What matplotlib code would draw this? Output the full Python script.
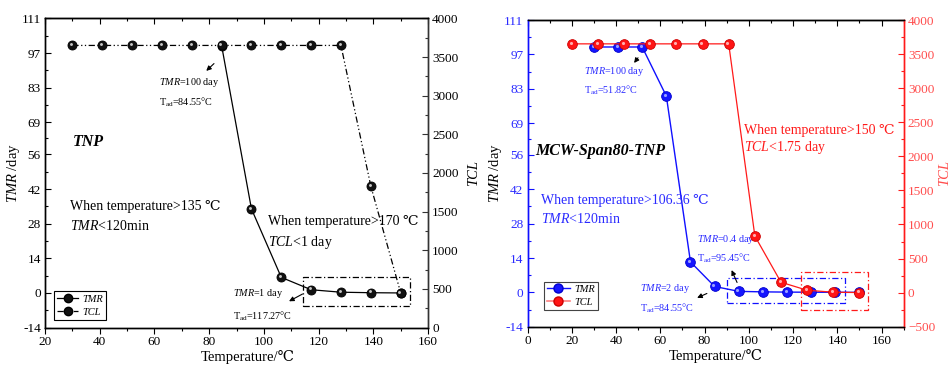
import matplotlib
matplotlib.use("Agg")
import matplotlib.pyplot as plt
from matplotlib.lines import Line2D
from matplotlib.patches import Rectangle
from matplotlib.ticker import MultipleLocator, FixedLocator
from matplotlib.transforms import offset_copy

plt.rcParams['font.family'] = ['Liberation Serif', 'DejaVu Serif', 'DejaVu Sans']
plt.rcParams['mathtext.fontset'] = 'custom'
plt.rcParams['mathtext.rm'] = 'Liberation Serif'
plt.rcParams['mathtext.it'] = 'Liberation Serif:italic'
plt.rcParams['mathtext.bf'] = 'Liberation Serif:bold'

# ---------------- data ----------------
# Left panel (TNP)
tnp_tmr_temp = [84.55, 95.45, 106.36, 117.27, 128.18, 139.09, 150]
tnp_tmr = [100, 34, 6.3, 1.3, 0.3, 0.1, 0.0]
tnp_tcl_temp = [30, 40.91, 51.82, 62.73, 73.64, 84.55, 95.45, 106.36, 117.27, 128.18, 139.09, 150]
tnp_tcl = [3650, 3650, 3650, 3650, 3650, 3650, 3650, 3650, 3650, 3650, 1830, 450]

# Right panel (MCW-Span80-TNP)
mcw_tmr_temp = [30, 40.91, 51.82, 62.73, 73.64, 84.55, 95.45, 106.36, 117.27, 128.18, 139.09, 150]
mcw_tmr = [100, 100, 100, 80, 12.4, 2.4, 0.4, 0.2, 0.1, 0.05, 0.02, 0.01]
mcw_tcl_temp = [20, 31.82, 43.64, 55.45, 67.27, 79.09, 90.91, 102.73, 114.55, 126.36, 138.18, 150]
mcw_tcl = [3650, 3650, 3650, 3650, 3650, 3650, 3650, 830, 152, 35, 6, 1]

tmr_ticks = [-14, 0, 14, 28, 42, 56, 69, 83, 97, 111]
tmr_minor = [-7, 7, 21, 35, 49, 62.5, 76, 90, 104]

BLUE = '#1010ff'
BLUE_T = '#2a2aff'
RED = '#ff1a1a'
RED_T = '#ff4d4d'

fig = plt.figure(figsize=(9.52, 3.67), dpi=100)


def balls(ax, x, y, face, edge, hl, ms, ls, lc, lw=0.9, z=3):
    ax.plot(x, y, linestyle=ls, color=lc, lw=lw, marker='o', ms=ms,
            mfc=face, mec=edge, mew=0.6, zorder=z)
    tr = offset_copy(ax.transData, fig=fig, x=-0.9, y=0.9, units='points')
    ax.plot(x, y, linestyle='none', marker='o', ms=ms * 0.32, mfc=hl, mec='none',
            alpha=0.9, transform=tr, zorder=z + 0.1)


def style_axes(ax, axr, xmajor, lcol, rcol, lspine, rspine, rticks, rminor, rlim):
    ax.set_ylim(-14, 111)
    ax.yaxis.set_major_locator(FixedLocator(tmr_ticks))
    ax.yaxis.set_minor_locator(FixedLocator(tmr_minor))
    ax.set_yticklabels([str(t) for t in tmr_ticks])
    ax.xaxis.set_major_locator(FixedLocator(xmajor))
    ax.xaxis.set_minor_locator(MultipleLocator(10))
    ax.tick_params(axis='x', which='both', direction='out', labelsize=9.5, pad=2)
    ax.tick_params(axis='x', which='major', length=4, width=0.8)
    ax.tick_params(axis='x', which='minor', length=2.5, width=0.8)
    ax.tick_params(axis='y', which='both', direction='in', labelsize=9.5,
                   colors=lspine, labelcolor=lcol, pad=3)
    ax.tick_params(axis='y', which='major', length=4, width=0.8)
    ax.tick_params(axis='y', which='minor', length=2.5, width=0.8)
    axr.set_ylim(*rlim)
    axr.yaxis.set_major_locator(FixedLocator(rticks))
    axr.yaxis.set_minor_locator(FixedLocator(rminor))
    axr.tick_params(axis='y', which='both', direction='in', labelsize=9.5,
                    colors=rspine, labelcolor=rcol, pad=3)
    axr.tick_params(axis='y', which='major', length=4, width=0.8)
    axr.tick_params(axis='y', which='minor', length=2.5, width=0.8)
    top = ax.secondary_xaxis('top')
    top.xaxis.set_major_locator(FixedLocator(xmajor))
    top.xaxis.set_minor_locator(MultipleLocator(10))
    top.tick_params(axis='x', which='both', direction='in', labeltop=False, width=0.8)
    top.tick_params(axis='x', which='major', length=4)
    top.tick_params(axis='x', which='minor', length=2.5)
    for a in (ax, axr):
        for s in a.spines.values():
            s.set_linewidth(1.0)
    ax.spines['left'].set_color(lspine)
    axr.spines['left'].set_color(lspine)
    ax.spines['right'].set_color(rspine)
    axr.spines['right'].set_color(rspine)


# ================= Left panel =================
ax1 = fig.add_axes([0.0473, 0.1074, 0.4023, 0.8425])
ax1b = ax1.twinx()
style_axes(ax1, ax1b, [20, 40, 60, 80, 100, 120, 140, 160], 'k', 'k', 'k', '#333333',
           [0, 500, 1000, 1500, 2000, 2500, 3000, 3500, 4000],
           [250, 750, 1250, 1750, 2250, 2750, 3250, 3750], (0, 4000))
ax1.set_xlim(20, 160)

tcl_ls = (0, (5, 2, 1, 2, 1, 2))
balls(ax1, tnp_tmr_temp, tnp_tmr, '#111111', '#000000', '#dddddd', 6.5, '-', 'k')
balls(ax1b, tnp_tcl_temp, tnp_tcl, '#111111', '#000000', '#dddddd', 6.5, tcl_ls, 'k')

ax1.set_xlabel('Temperature/℃', fontsize=10.5)
ax1.xaxis.set_label_coords(0.53, -0.072)
ax1.set_ylabel(r'$\mathit{TMR}$ /day', fontsize=10.5, labelpad=0)
ax1b.set_ylabel('TCL', fontsize=10.5, style='italic', labelpad=6)

ax1.text(61.7, 84.9, r'$\mathit{TMR}$=100 day', fontsize=7.3, va='center')
ax1.text(61.7, 76.9, r'T$_{\rm ad}$=84.55°C', fontsize=7.3, va='center')
ax1.annotate('', xy=(78.2, 89), xytext=(82.5, 93.5),
             arrowprops=dict(arrowstyle='-|>', color='k', lw=0.8, mutation_scale=7))
ax1.text(30.2, 61.2, 'TNP', fontsize=11.5, fontweight='bold', style='italic', va='center')
ax1.text(29.1, 34.9, 'When temperature>135 ℃', fontsize=10, va='center')
ax1.text(29.1, 27.1, r'$\mathit{TMR}$<120min', fontsize=10, va='center')
ax1.text(101.5, 28.7, 'When temperature>170 ℃', fontsize=10, va='center', zorder=5)
ax1.text(101.5, 20.3, r'$\mathit{TCL}$<1 day', fontsize=10, va='center', zorder=5)
ax1.text(88.7, -0.1, r'$\mathit{TMR}$=1 day', fontsize=7.3, va='center')
ax1.text(88.7, -9.6, r'T$_{\rm ad}$=117.27°C', fontsize=7.3, va='center')
ax1.annotate('', xy=(108.3, -3.9), xytext=(115, 0.1),
             arrowprops=dict(arrowstyle='-|>', color='k', lw=0.8, mutation_scale=7))
ax1.add_patch(Rectangle((114.4, -5.3), 39.0, 11.9, fill=False, ec='k', lw=0.9,
                        ls=(0, (5, 2, 1, 2))))

h1 = [Line2D([], [], color='k', ls='-', lw=0.9, marker='o', ms=6, mfc='#111111', mec='k'),
      Line2D([], [], color='k', ls=tcl_ls, lw=0.9, marker='o', ms=6, mfc='#111111', mec='k')]
leg1 = ax1b.legend(h1, ['TMR', 'TCL'], loc='lower left', bbox_to_anchor=(0.024, 0.025),
                   borderaxespad=0, fancybox=False, edgecolor='k', framealpha=1,
                   prop={'size': 7.5, 'style': 'italic'}, handlelength=2.0,
                   borderpad=0.3, labelspacing=0.35, handletextpad=0.4)
leg1.get_frame().set_linewidth(0.8)

# ================= Right panel =================
ax2 = fig.add_axes([0.5541, 0.1098, 0.3952, 0.8357])
ax2b = ax2.twinx()
style_axes(ax2, ax2b, [0, 20, 40, 60, 80, 100, 120, 140, 160], BLUE_T, RED_T, BLUE, RED,
           [-500, 0, 500, 1000, 1500, 2000, 2500, 3000, 3500, 4000],
           [-250, 250, 750, 1250, 1750, 2250, 2750, 3250, 3750], (-500, 4000))
ax2.set_xlim(0, 170)

balls(ax2, mcw_tmr_temp, mcw_tmr, '#1515ff', '#0000cc', '#aab0ff', 7, '-', BLUE, lw=1.0)
balls(ax2b, mcw_tcl_temp, mcw_tcl, '#ff1515', '#cc0000', '#ffc0c0', 7, '-', RED, lw=0.9)

ax2.set_xlabel('Temperature/℃', fontsize=10.5)
ax2.xaxis.set_label_coords(0.5, -0.072)
ax2.set_ylabel(r'$\mathit{TMR}$ /day', fontsize=10.5, labelpad=0)
ax2b.set_ylabel('TCL', fontsize=10.5, style='italic', color=RED_T, labelpad=2)

ax2.text(25.7, 89.9, r'$\mathit{TMR}$=100 day', fontsize=7.3, va='center', color=BLUE_T)
ax2.text(25.7, 82.2, r'T$_{\rm ad}$=51.82°C', fontsize=7.3, va='center', color=BLUE_T)
ax2.annotate('', xy=(47.4, 92.6), xytext=(50.7, 96.5),
             arrowprops=dict(arrowstyle='-|>', color='k', lw=0.8, mutation_scale=7))
ax2.text(3.6, 57.5, 'MCW-Span80-TNP', fontsize=11.5, fontweight='bold', style='italic',
         va='center')
ax2.text(5.9, 37.6, 'When temperature>106.36 ℃', fontsize=10, va='center', color=BLUE_T)
ax2.text(5.9, 30.0, r'$\mathit{TMR}$<120min', fontsize=10, va='center', color=BLUE_T)
ax2.text(76.7, 21.6, r'$\mathit{TMR}$=0.4 day', fontsize=7.3, va='center', color=BLUE_T)
ax2.text(76.7, 13.8, r'T$_{\rm ad}$=95.45°C', fontsize=7.3, va='center', color=BLUE_T)
ax2.annotate('', xy=(91.7, 10.1), xytext=(95.2, 3.0),
             arrowprops=dict(arrowstyle='-|>', color='k', lw=0.8, mutation_scale=7))
ax2.text(51.0, 1.6, r'$\mathit{TMR}$=2 day', fontsize=7.3, va='center', color=BLUE_T)
ax2.text(51.0, -6.5, r'T$_{\rm ad}$=84.55°C', fontsize=7.3, va='center', color=BLUE_T)
ax2.annotate('', xy=(75.5, -2.7), xytext=(82.2, 0.0),
             arrowprops=dict(arrowstyle='-|>', color='k', lw=0.8, mutation_scale=7))
ax2.add_patch(Rectangle((90.2, -4.3), 53.4, 10.0, fill=False, ec=BLUE, lw=0.9,
                        ls=(0, (5, 2, 1, 2))))
ax2b.add_patch(Rectangle((123.7, -254), 30.0, 553, fill=False, ec=RED, lw=0.9,
                         ls=(0, (5, 2, 1, 2))))
ax2b.text(97.7, 2385, 'When temperature>150 ℃', fontsize=10, va='center', color=RED)
ax2b.text(97.7, 2260, r'$\mathit{TCL}$<1.75 day', fontsize=10, va='top', color=RED)

h2 = [Line2D([], [], color=BLUE, ls='-', lw=1.0, marker='o', ms=6.5, mfc='#1515ff', mec='#0000cc'),
      Line2D([], [], color='#ff8080', ls='-', lw=1.2, marker='o', ms=6.5, mfc='#ff1515', mec='#cc0000')]
leg2 = ax2b.legend(h2, ['TMR', 'TCL'], loc='lower left', bbox_to_anchor=(0.043, 0.054),
                   borderaxespad=0, fancybox=False, edgecolor='#444444', framealpha=1,
                   prop={'size': 7.5, 'style': 'italic'}, handlelength=2.2,
                   borderpad=0.3, labelspacing=0.35, handletextpad=0.4)
leg2.get_frame().set_linewidth(0.8)

fig.savefig('out.png', dpi=100)
